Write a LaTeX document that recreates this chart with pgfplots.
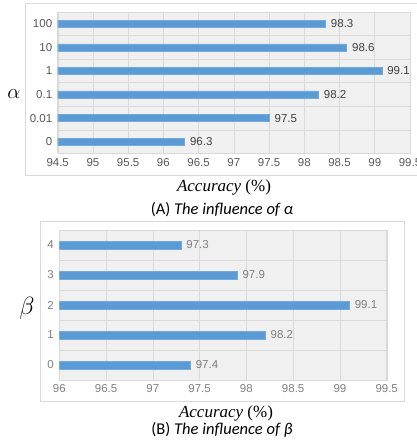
\documentclass[border=0pt]{standalone}
\usepackage{fontspec}
\setmainfont{Liberation Serif}
\newfontfamily\tickfont{Liberation Sans}
\newfontfamily\capfont{Carlito}
\usepackage{pgfplots}
\pgfplotsset{compat=1.18}
\definecolor{barblue}{HTML}{5B9BD5}
\definecolor{gridgray}{HTML}{D9D9D9}
\definecolor{bggray}{HTML}{F0F0F0}
\definecolor{ticktop}{HTML}{595959}
\definecolor{tickbot}{HTML}{808080}
\definecolor{labtop}{HTML}{404040}
\definecolor{boxgray}{HTML}{D9D9D9}
\pgfplotsset{
  excelbar/.style={
    scale only axis,
    xbar, anchor=south west,
    axis background/.style={fill=bggray},
    axis line style={gridgray},
    major tick length=0pt, minor tick length=0pt,
    xmajorgrids, yminorgrids,
    grid style={gridgray, line width=0.6pt},
    minor grid style={gridgray, line width=0.6pt},
    /pgf/number format/assume math mode=true,
    /pgf/number format/.cd, fixed, precision=1, /pgfplots/.cd,
    ytick={0,1,2,3,4,5,6},
    minor ytick={0.5,1.5,2.5,3.5,4.5,5.5},
    point meta=x,
    nodes near coords,
    nodes near coords style={anchor=west, xshift=2pt},
  }
}
\begin{document}
\begin{tikzpicture}
\useasboundingbox (0pt,0pt) rectangle (417pt,444pt);
% outer chart boxes
\draw[boxgray, line width=0.7pt, fill=white] (25pt,441pt) rectangle (430pt,269pt);
\draw[boxgray, line width=0.7pt, fill=white] (40.7pt,222.3pt) rectangle (404pt,43pt);
% top axis
\begin{axis}[excelbar,
  at={(57.7pt,290.5pt)}, width=352.3pt, height=141.6pt,
  xmin=94.5, xmax=99.5, xtick={94.5,95,...,99.5},
  ymin=-0.5, ymax=5.5,
  yticklabels={0,0.01,0.1,1,10,100},
  bar width=7pt,
  tick label style={font=\tickfont\fontsize{11.5}{12}\selectfont, text=ticktop},
  xticklabel style={yshift=-1pt},
  yticklabel style={xshift=-2pt},
  nodes near coords style={font=\tickfont\fontsize{11.5}{12}\selectfont, text=labtop},
]
\addplot[fill=barblue, draw=barblue!85!white] coordinates {
  (96.3,0) (97.5,1) (98.2,2) (99.1,3) (98.6,4) (98.3,5)
};
\end{axis}
% bottom axis
\begin{axis}[excelbar,
  at={(59.3pt,64pt)}, width=327.4pt, height=150pt,
  xmin=96, xmax=99.5, xtick={96,96.5,...,99.5},
  ymin=-0.5, ymax=4.5,
  yticklabels={0,1,2,3,4},
  bar width=7.5pt,
  tick label style={font=\tickfont\fontsize{11.5}{12}\selectfont, text=tickbot},
  xticklabel style={yshift=-1pt},
  yticklabel style={xshift=-2pt},
  nodes near coords style={font=\tickfont\fontsize{11.5}{12}\selectfont, text=tickbot},
]
\addplot[fill=barblue, draw=barblue!85!white] coordinates {
  (97.4,0) (98.2,1) (99.1,2) (97.9,3) (97.3,4)
};
\end{axis}
% axis titles
\node at (14pt,350pt) {\fontsize{22}{22}\selectfont$\alpha$};
\node at (27pt,136pt) {\fontsize{25}{25}\selectfont$\beta$};
\node at (224pt,257pt) {\fontsize{17}{18}\selectfont\textit{Accuracy} (\%)};
\node at (226pt,31pt) {\fontsize{17}{18}\selectfont\textit{Accuracy} (\%)};
\node at (222pt,234pt) {\capfont\fontsize{16.5}{17}\selectfont (A) \textit{The influence of α}};
\node at (222pt,14pt) {\capfont\fontsize{16.5}{17}\selectfont (B) \textit{The influence of β}};
\end{tikzpicture}
\end{document}
